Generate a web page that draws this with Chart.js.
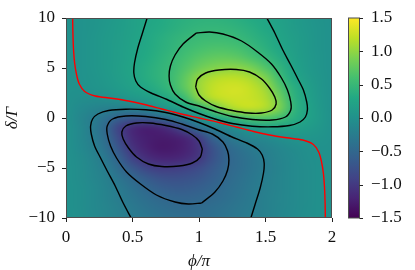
<!DOCTYPE html>
<html lang="en">
<head>
<meta charset="UTF-8">
<title>Map over phi/pi and delta/Gamma</title>
<script src="https://cdn.jsdelivr.net/npm/chart.js"></script>
<style>
  body { margin: 0; background: #fff; }
  canvas { display: block; }
</style>
</head>
<body>
<canvas id="mapChart" width="415" height="270"></canvas>
<script>
// colour map grid: columns = phi/pi, rows = delta/Gamma (top row first)
var phiGrid = [0, 0.1, 0.2, 0.3, 0.4, 0.5, 0.6, 0.7, 0.8, 0.9, 1, 1.1, 1.2, 1.3, 1.4, 1.5, 1.6, 1.7, 1.8, 1.9, 2];
var deltaGrid = [10, 9, 8, 7, 6, 5, 4, 3, 2, 1, 0, -1, -2, -3, -4, -5, -6, -7, -8, -9, -10];
var zValues = [
  [0, 0.01, 0.04, 0.08, 0.13, 0.19, 0.245, 0.30, 0.35, 0.39, 0.415, 0.42, 0.40, 0.36, 0.31, 0.26, 0.20, 0.14, 0.08, 0.03, 0],
  [0, 0.01, 0.045, 0.09, 0.14, 0.20, 0.26, 0.315, 0.37, 0.42, 0.455, 0.47, 0.46, 0.42, 0.36, 0.29, 0.22, 0.15, 0.09, 0.04, 0],
  [0, 0.01, 0.05, 0.10, 0.15, 0.21, 0.275, 0.35, 0.42, 0.485, 0.52, 0.54, 0.53, 0.49, 0.42, 0.34, 0.25, 0.17, 0.10, 0.04, 0],
  [0, 0.01, 0.05, 0.10, 0.16, 0.22, 0.29, 0.37, 0.44, 0.53, 0.60, 0.64, 0.64, 0.60, 0.50, 0.39, 0.28, 0.18, 0.10, 0.04, 0],
  [0, 0.01, 0.05, 0.10, 0.16, 0.23, 0.31, 0.40, 0.49, 0.60, 0.70, 0.76, 0.78, 0.74, 0.63, 0.49, 0.35, 0.21, 0.12, 0.05, 0],
  [0, 0.01, 0.05, 0.10, 0.17, 0.25, 0.34, 0.43, 0.52, 0.67, 0.82, 0.92, 0.97, 0.97, 0.88, 0.68, 0.46, 0.25, 0.13, 0.05, 0],
  [0, 0.01, 0.04, 0.09, 0.16, 0.24, 0.34, 0.43, 0.55, 0.76, 1.01, 1.14, 1.20, 1.19, 1.10, 0.92, 0.58, 0.31, 0.16, 0.06, 0],
  [0, -0.005, 0.02, 0.07, 0.13, 0.20, 0.28, 0.38, 0.52, 0.76, 1.05, 1.22, 1.29, 1.30, 1.22, 1.06, 0.72, 0.40, 0.21, 0.08, 0],
  [0, -0.04, -0.05, -0.02, 0.03, 0.09, 0.15, 0.22, 0.36, 0.56, 0.97, 1.18, 1.26, 1.28, 1.24, 1.14, 0.85, 0.46, 0.24, 0.09, 0],
  [0, -0.08, -0.14, -0.19, -0.21, -0.19, -0.12, 0.01, 0.13, 0.25, 0.42, 0.72, 1.04, 1.20, 1.24, 1.15, 0.92, 0.49, 0.26, 0.10, 0],
  [0, -0.12, -0.24, -0.40, -0.58, -0.68, -0.66, -0.52, -0.35, -0.24, 0, 0.24, 0.35, 0.52, 0.66, 0.68, 0.58, 0.40, 0.24, 0.12, 0],
  [0, -0.10, -0.26, -0.49, -0.92, -1.15, -1.24, -1.20, -1.04, -0.72, -0.42, -0.25, -0.13, -0.01, 0.12, 0.19, 0.21, 0.19, 0.14, 0.08, 0],
  [0, -0.09, -0.24, -0.46, -0.85, -1.14, -1.24, -1.28, -1.26, -1.18, -0.97, -0.56, -0.36, -0.22, -0.15, -0.09, -0.03, 0.02, 0.05, 0.04, 0],
  [0, -0.08, -0.21, -0.40, -0.72, -1.06, -1.22, -1.30, -1.29, -1.22, -1.05, -0.76, -0.52, -0.38, -0.28, -0.20, -0.13, -0.07, -0.02, 0.005, 0],
  [0, -0.06, -0.16, -0.31, -0.58, -0.92, -1.10, -1.19, -1.20, -1.14, -1.01, -0.76, -0.55, -0.43, -0.34, -0.24, -0.16, -0.09, -0.04, -0.01, 0],
  [0, -0.05, -0.13, -0.25, -0.46, -0.68, -0.88, -0.97, -0.97, -0.92, -0.82, -0.67, -0.52, -0.43, -0.34, -0.25, -0.17, -0.10, -0.05, -0.01, 0],
  [0, -0.05, -0.12, -0.21, -0.35, -0.49, -0.63, -0.74, -0.78, -0.76, -0.70, -0.60, -0.49, -0.40, -0.31, -0.23, -0.16, -0.10, -0.05, -0.01, 0],
  [0, -0.04, -0.10, -0.18, -0.28, -0.39, -0.50, -0.60, -0.64, -0.64, -0.60, -0.53, -0.44, -0.37, -0.29, -0.22, -0.16, -0.10, -0.05, -0.01, 0],
  [0, -0.04, -0.10, -0.17, -0.25, -0.34, -0.42, -0.49, -0.53, -0.54, -0.52, -0.485, -0.42, -0.35, -0.275, -0.21, -0.15, -0.10, -0.05, -0.01, 0],
  [0, -0.04, -0.09, -0.15, -0.22, -0.29, -0.36, -0.42, -0.46, -0.47, -0.455, -0.42, -0.37, -0.315, -0.26, -0.20, -0.14, -0.09, -0.045, -0.01, 0],
  [0, -0.03, -0.08, -0.14, -0.20, -0.26, -0.31, -0.36, -0.40, -0.42, -0.415, -0.39, -0.35, -0.30, -0.245, -0.19, -0.13, -0.08, -0.04, -0.01, 0]
];
var zMin = -1.5, zMax = 1.5;

// black contour lines
var upInnerPhi   = [0.975, 0.99, 1.05, 1.15, 1.28, 1.38, 1.47, 1.53, 1.57, 1.58, 1.55, 1.47, 1.37, 1.25, 1.13, 1.05, 1.0, 0.975];
var upInnerDelta = [3.1, 3.9, 4.5, 4.8, 4.85, 4.6, 3.9, 3.0, 2.1, 1.4, 0.8, 0.5, 0.5, 0.75, 1.15, 1.7, 2.3, 3.1];
var upMidPhi   = [0.98, 0.88, 0.82, 0.785, 0.775, 0.785, 0.82, 0.90, 1.01, 1.13, 1.25, 1.40, 1.55, 1.65, 1.69, 1.69, 1.665, 1.62, 1.545, 1.44, 1.32, 1.18, 1.08, 0.98];
var upMidDelta = [8.5, 7.4, 6.3, 5.2, 4.2, 3.3, 2.4, 1.6, 1.15, 0.6, 0.15, -0.15, -0.2, 0.1, 0.8, 1.6, 2.8, 4.0, 5.4, 6.6, 7.7, 8.4, 8.6, 8.5];
var upOutPhi   = [0.61, 0.575, 0.54, 0.515, 0.51, 0.525, 0.56, 0.64, 0.76, 0.88, 1.0, 1.12, 1.25, 1.40, 1.55, 1.68, 1.76, 1.80, 1.815, 1.81, 1.785, 1.74, 1.69, 1.63, 1.57, 1.51];
var upOutDelta = [10, 8.5, 7, 5.5, 4.5, 3.7, 3.1, 2.5, 1.85, 1.1, 0.45, -0.1, -0.55, -0.82, -0.88, -0.75, -0.4, 0.1, 0.8, 1.6, 2.8, 4.0, 5.3, 6.8, 8.5, 10];
var loInnerPhi   = [1.025, 1.01, 0.95, 0.85, 0.72, 0.62, 0.53, 0.47, 0.43, 0.42, 0.45, 0.53, 0.63, 0.75, 0.87, 0.95, 1.0, 1.025];
var loInnerDelta = [-3.1, -3.9, -4.5, -4.8, -4.85, -4.6, -3.9, -3.0, -2.1, -1.4, -0.8, -0.5, -0.5, -0.75, -1.15, -1.7, -2.3, -3.1];
var loMidPhi   = [1.02, 1.12, 1.18, 1.215, 1.225, 1.215, 1.18, 1.10, 0.99, 0.87, 0.75, 0.60, 0.45, 0.35, 0.31, 0.31, 0.335, 0.38, 0.455, 0.56, 0.68, 0.82, 0.92, 1.02];
var loMidDelta = [-8.5, -7.4, -6.3, -5.2, -4.2, -3.3, -2.4, -1.6, -1.15, -0.6, -0.15, 0.15, 0.2, -0.1, -0.8, -1.6, -2.8, -4.0, -5.4, -6.6, -7.7, -8.4, -8.6, -8.5];
var loOutPhi   = [1.39, 1.425, 1.46, 1.485, 1.49, 1.475, 1.44, 1.36, 1.24, 1.12, 1.0, 0.88, 0.75, 0.60, 0.45, 0.32, 0.24, 0.20, 0.185, 0.19, 0.215, 0.26, 0.31, 0.37, 0.43, 0.49];
var loOutDelta = [-10, -8.5, -7, -5.5, -4.5, -3.7, -3.1, -2.5, -1.85, -1.1, -0.45, 0.1, 0.55, 0.82, 0.88, 0.75, 0.4, -0.1, -0.8, -1.6, -2.8, -4.0, -5.3, -6.8, -8.5, -10];

// red curve
var redPhi   = [0.05, 0.052, 0.056, 0.065, 0.08, 0.10, 0.14, 0.22, 0.34, 0.47, 0.59, 0.72, 0.85, 1.0, 1.15, 1.28, 1.41, 1.53, 1.66, 1.78, 1.86, 1.90, 1.92, 1.935, 1.944, 1.948, 1.95];
var redDelta = [10, 8.5, 7, 5.5, 4.3, 3.4, 2.65, 2.2, 1.98, 1.7, 1.35, 0.9, 0.45, 0, -0.45, -0.9, -1.35, -1.7, -1.98, -2.2, -2.65, -3.4, -4.3, -5.5, -7, -8.5, -10];
var redLeftPhi = [0, 0],  redLeftDelta = [0.8, -10];
var redRightPhi = [2, 2], redRightDelta = [10, -0.8];

var xTicks = [0, 0.5, 1, 1.5, 2];
var yTicks = [-10, -5, 0, 5, 10];
var cbTicks = [-1.5, -1, -0.5, 0, 0.5, 1, 1.5];

var viridisStops = ['#440154', '#482475', '#414487', '#355f8d', '#2a788e', '#21918c',
                    '#22a884', '#44bf70', '#7ad151', '#bddf26', '#fde725'];

function hexRgb(h) {
    return [parseInt(h.substr(1, 2), 16), parseInt(h.substr(3, 2), 16), parseInt(h.substr(5, 2), 16)];
}
function viridis(t) {
    t = Math.max(0, Math.min(1, t));
    var n = viridisStops.length - 1;
    var i = Math.min(Math.floor(t * n), n - 1);
    var f = t * n - i;
    var a = hexRgb(viridisStops[i]), b = hexRgb(viridisStops[i + 1]);
    return [0, 1, 2].map(function (k) { return Math.round(a[k] + (b[k] - a[k]) * f); });
}
function pts(xs, ys) {
    return xs.map(function (x, i) { return { x: x, y: ys[i] }; });
}
function minus(s) { return s.replace('-', '\u2212'); }

var heatPlugin = {
    id: 'heat',
    beforeDatasetsDraw: function (chart) {
        var ctx = chart.ctx, a = chart.chartArea;
        var xs = chart.scales.x, ys = chart.scales.y;
        var nr = deltaGrid.length, nc = phiGrid.length;
        var off = document.createElement('canvas');
        off.width = nc; off.height = nr;
        var octx = off.getContext('2d');
        var img = octx.createImageData(nc, nr);
        for (var r = 0; r < nr; r++) {
            for (var c = 0; c < nc; c++) {
                var col = viridis((zValues[r][c] - zMin) / (zMax - zMin));
                var k = 4 * (r * nc + c);
                img.data[k] = col[0]; img.data[k + 1] = col[1]; img.data[k + 2] = col[2]; img.data[k + 3] = 255;
            }
        }
        octx.putImageData(img, 0, 0);
        var hx = (phiGrid[1] - phiGrid[0]) / 2, hy = (deltaGrid[0] - deltaGrid[1]) / 2;
        var x0 = xs.getPixelForValue(phiGrid[0] - hx), x1 = xs.getPixelForValue(phiGrid[nc - 1] + hx);
        var y0 = ys.getPixelForValue(deltaGrid[0] + hy), y1 = ys.getPixelForValue(deltaGrid[nr - 1] - hy);
        ctx.save();
        ctx.beginPath();
        ctx.rect(a.left, a.top, a.right - a.left, a.bottom - a.top);
        ctx.clip();
        ctx.imageSmoothingEnabled = true;
        ctx.imageSmoothingQuality = 'high';
        ctx.drawImage(off, x0, y0, x1 - x0, y1 - y0);
        ctx.restore();
    },
    afterDraw: function (chart) {
        var ctx = chart.ctx, a = chart.chartArea, cb = chart.scales.cb;
        ctx.save();
        // axes frame
        ctx.strokeStyle = '#4d4d4d';
        ctx.lineWidth = 1;
        ctx.strokeRect(a.left + 0.5, a.top + 0.5, a.right - a.left - 1, a.bottom - a.top - 1);
        // colour bar
        var bx = a.right + 16.5, bw = 11;
        var top = cb.getPixelForValue(zMax), bot = cb.getPixelForValue(zMin);
        var g = ctx.createLinearGradient(0, bot, 0, top);
        viridisStops.forEach(function (s, i) { g.addColorStop(i / (viridisStops.length - 1), s); });
        ctx.fillStyle = g;
        ctx.fillRect(bx, top, bw, bot - top);
        ctx.strokeRect(bx, top, bw, bot - top);
        ctx.strokeStyle = '#222';
        cbTicks.forEach(function (v) {
            var y = Math.round(cb.getPixelForValue(v)) + 0.5;
            ctx.beginPath();
            ctx.moveTo(bx + bw, y);
            ctx.lineTo(bx + bw + 3.5, y);
            ctx.stroke();
        });
        ctx.restore();
    }
};

var font = { family: "'Liberation Serif', 'DejaVu Serif', serif", size: 17 };
var titleFont = { family: "'Liberation Serif', 'DejaVu Serif', serif", size: 17, style: 'italic', lineHeight: 1 };

function contour(xs, ys, color) {
    return {
        data: pts(xs, ys),
        showLine: true,
        borderColor: color,
        borderWidth: 1.4,
        pointRadius: 0,
        tension: 0.3,
        fill: false,
        clip: 0
    };
}

new Chart(document.getElementById('mapChart').getContext('2d'), {
    type: 'scatter',
    data: {
        datasets: [
            contour(redPhi, redDelta, '#ff0000'),
            contour(redLeftPhi, redLeftDelta, '#ff0000'),
            contour(redRightPhi, redRightDelta, '#ff0000'),
            contour(upInnerPhi, upInnerDelta, '#000'),
            contour(upMidPhi, upMidDelta, '#000'),
            contour(upOutPhi, upOutDelta, '#000'),
            contour(loInnerPhi, loInnerDelta, '#000'),
            contour(loMidPhi, loMidDelta, '#000'),
            contour(loOutPhi, loOutDelta, '#000')
        ]
    },
    plugins: [heatPlugin],
    options: {
        responsive: false,
        animation: false,
        events: [],
        layout: { padding: { top: 18, right: 0, bottom: 0, left: 0 } },
        plugins: { legend: { display: false }, tooltip: { enabled: false } },
        scales: {
            x: {
                type: 'linear', min: 0, max: 2,
                afterBuildTicks: function (s) { s.ticks = xTicks.map(function (v) { return { value: v }; }); },
                afterFit: function (s) { s.height = 52; },
                ticks: { font: font, color: '#111', padding: 5, maxRotation: 0,
                         callback: function (v) { return String(v); } },
                grid: { drawOnChartArea: false, drawTicks: true, tickLength: 4, color: '#222', tickColor: '#222' },
                border: { display: false },
                title: { display: true, text: '\u03d5/\u03c0', font: titleFont, color: '#111', padding: { top: 0, bottom: 0 } }
            },
            y: {
                type: 'linear', min: -10, max: 10,
                afterBuildTicks: function (s) { s.ticks = yTicks.map(function (v) { return { value: v }; }); },
                afterFit: function (s) { s.width = 66; },
                ticks: { font: font, color: '#111', padding: 7,
                         callback: function (v) { return minus(String(v)); } },
                grid: { drawOnChartArea: false, drawTicks: true, tickLength: 4, color: '#222', tickColor: '#222' },
                border: { display: false },
                title: { display: true, text: '\u03b4/\u0393', font: titleFont, color: '#111', padding: { top: 4, bottom: 0 } }
            },
            cb: {
                type: 'linear', position: 'right', axis: 'y', min: zMin, max: zMax,
                afterBuildTicks: function (s) { s.ticks = cbTicks.map(function (v) { return { value: v }; }); },
                afterFit: function (s) { s.width = 83; },
                ticks: { font: font, color: '#111', padding: 3,
                         callback: function (v) { return minus(v.toFixed(1)); } },
                grid: { display: true, drawOnChartArea: false, drawTicks: true, tickLength: 36,
                        color: 'rgba(0,0,0,0)', tickColor: 'rgba(0,0,0,0)' },
                border: { display: false }
            }
        }
    }
});
</script>
</body>
</html>
